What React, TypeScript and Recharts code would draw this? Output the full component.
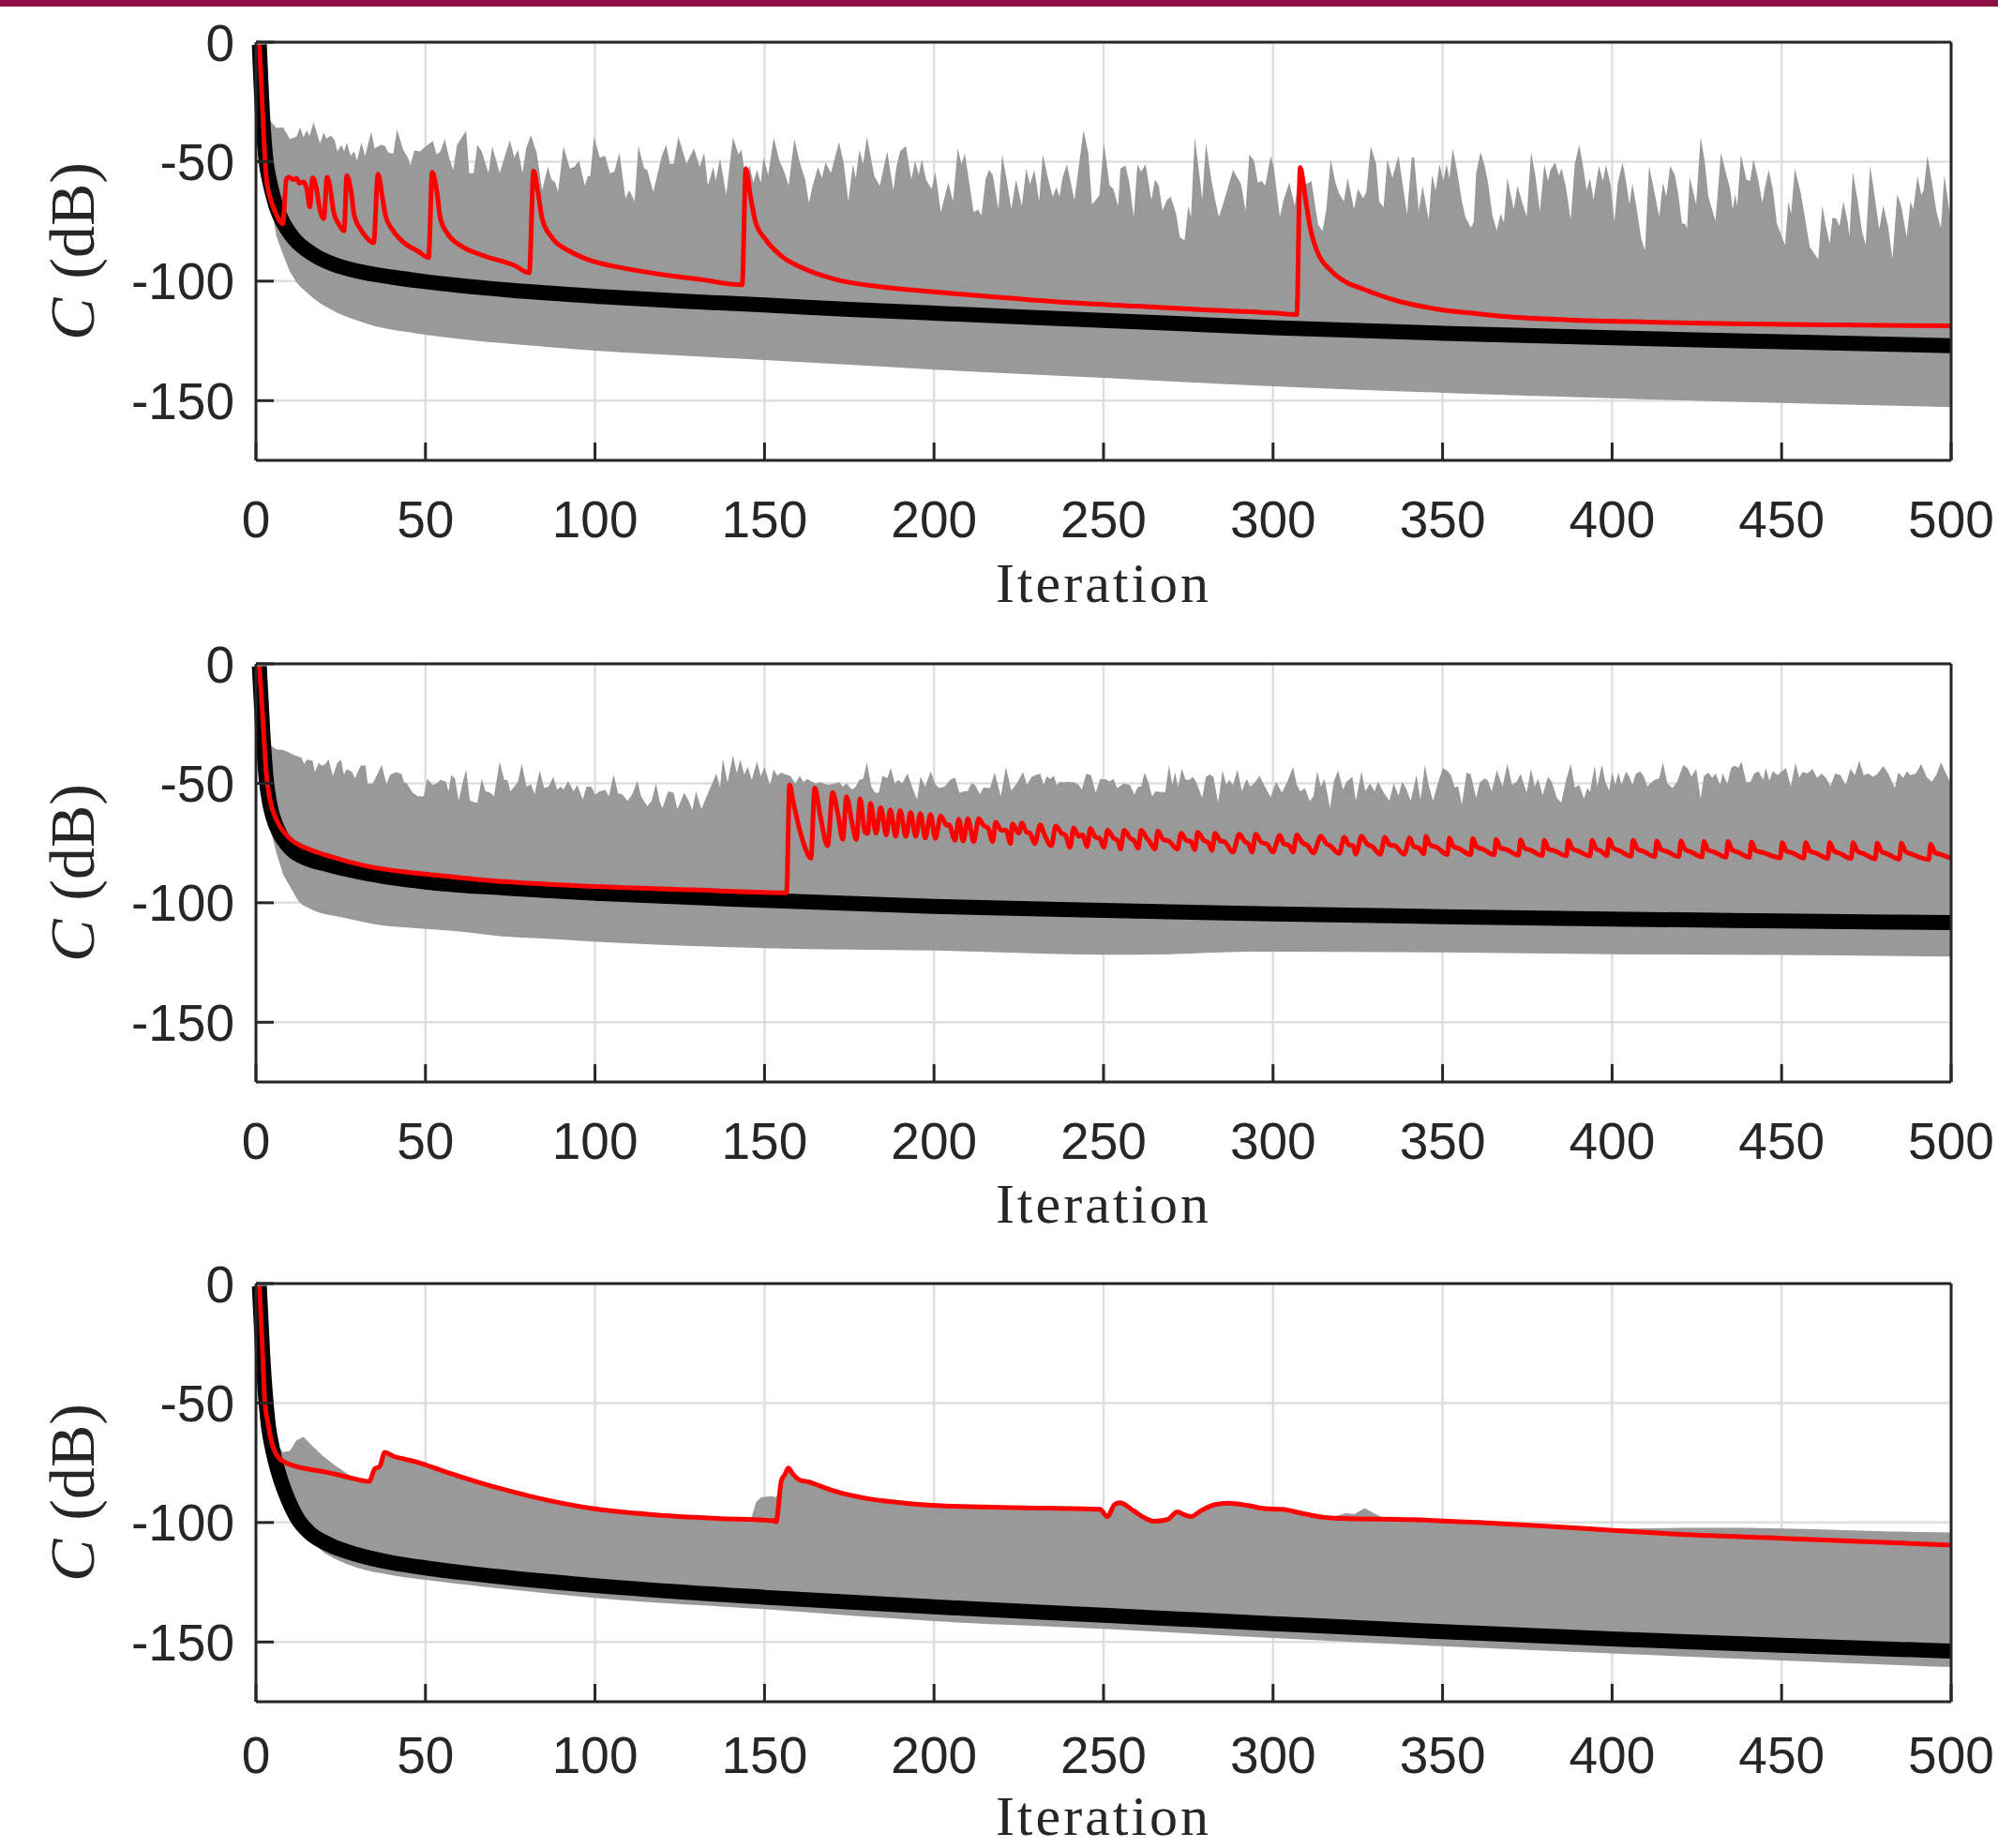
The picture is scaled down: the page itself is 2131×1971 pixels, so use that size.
import React from 'react';
import { ComposedChart, Area, Line, XAxis, YAxis, CartesianGrid } from 'recharts';

type Pt = [number, number];

const xTicks = [0, 50, 100, 150, 200, 250, 300, 350, 400, 450, 500];
const yTicks = [-150, -100, -50, 0];
const xLabel = 'Iteration';

// ---------------- Panel 1 ----------------
const p1Upper: Pt[] = [[4,-32.6],[6,-35.9],[8,-35.6],[10,-40.5],[12,-39.5],[13,-35.6],[14,-39.8],[15,-37],[15.8,-39.2],[17,-33.5],[18.9,-42.4],[20,-37.8],[20.8,-40.4],[22.1,-39],[23.2,-41],[24,-45.7],[25.2,-43],[26,-45.7],[26.8,-42],[27.9,-47.6],[29,-45.7],[29.8,-49.6],[31.1,-42],[32.2,-47.6],[34,-37.5],[35,-44.4],[36.9,-43],[38,-43.4],[39.1,-46.3],[40.5,-46.6],[41.6,-36.5],[43.4,-45],[44.8,-48.3],[45.6,-51.6],[46.7,-45.3],[48.4,-45.7],[50,-43.7],[52.2,-41.4],[53.3,-47],[54.4,-45.7],[55.7,-40.5],[57.1,-49],[58.2,-53.5],[59.3,-43],[62,-37],[62.9,-54.8],[64.2,-54.8],[65.3,-43],[66.6,-45.7],[68.6,-54.8],[69.7,-43.7],[71.9,-54.8],[72.7,-50.9],[74.9,-41],[76.2,-48.3],[77.3,-45],[78.6,-54.8],[79.7,-44.4],[81.1,-38.8],[82.8,-46.3],[84.4,-62],[86.1,-52.2],[87.2,-57.5],[88.3,-58.8],[89.1,-62.7],[90.7,-43.7],[92.6,-52.9],[93.9,-52.2],[95.3,-49.6],[97,-60],[97.9,-56.1],[98.6,-56.1],[99.7,-39.5],[101.4,-48.3],[103,-47.6],[104.4,-54.8],[105.7,-54.2],[107.2,-46.3],[109,-65.3],[110.1,-62],[111.7,-66.6],[112.8,-43.5],[114.5,-52.9],[115.4,-53.5],[117.2,-62.7],[119.7,-47.6],[121,-43],[122.1,-50.9],[123.2,-50.9],[124.6,-39.5],[127,-50.9],[128.1,-47.6],[129.2,-44.4],[130.9,-52.2],[132.2,-46.3],[133.3,-60],[134.9,-52.2],[135.6,-58.1],[136.9,-48.7],[138.7,-64],[140.7,-39.8],[142.3,-47],[143.2,-45],[144.5,-58.1],[145.6,-51.6],[146.7,-58.8],[147.8,-53.5],[148.9,-58.8],[149.7,-48.3],[151.1,-55.5],[152.7,-39.8],[154.4,-49.6],[156,-54.8],[157.1,-60],[158.8,-40.5],[160.4,-50.3],[162,-57.5],[163.1,-67.3],[164.2,-60],[165.8,-52.2],[166.9,-56.8],[168,-50.3],[169.6,-54.8],[171,-47],[172,-41.8],[173.4,-51],[174.7,-66.6],[176.1,-51],[176.9,-56.8],[178,-45],[179.1,-51],[180.2,-39.5],[182.4,-56.1],[184,-60],[186.2,-45.7],[188,-62],[188.9,-52.2],[190,-45.7],[191.7,-43.5],[193.3,-57.5],[194.4,-49.6],[195.5,-55.5],[196.4,-49],[197.7,-57.8],[199.3,-61.4],[200.4,-54.2],[202,-71.2],[204.2,-58.8],[205.6,-66.6],[207,-44.4],[208.1,-51],[209.1,-46.6],[211.7,-71.2],[213,-69.9],[214,-72.5],[215.2,-57.5],[216.2,-53.5],[217.3,-55.5],[219,-69.9],[220.1,-47],[221.5,-58.1],[222.8,-69.9],[224.2,-57.5],[225.9,-68.6],[227.2,-52.9],[228.3,-59.5],[229.6,-53.5],[231,-66.6],[232.1,-47],[233.7,-57.5],[235,-64.6],[236.1,-60.7],[237,-64.6],[237.9,-56.8],[239.2,-51],[241.4,-66],[244.1,-36.9],[245.5,-46.3],[246.6,-67.9],[247.4,-66.6],[248.8,-64],[250.1,-42.4],[251.8,-60],[252.9,-61.4],[254.3,-68.6],[255,-52.9],[256.5,-51.6],[257.6,-58.8],[258.9,-73.1],[260,-51],[261.1,-54.2],[262.4,-51],[264.1,-66],[265.2,-57.5],[266.3,-60],[267.4,-70.5],[268.7,-66],[269.8,-64.6],[271.4,-71.8],[272.5,-81.6],[273.9,-82.9],[275,-68.6],[275.8,-73.1],[276.9,-39.8],[278.5,-58.1],[279.1,-66],[280.2,-42.2],[281.8,-57.5],[282.9,-66],[284,-73.1],[285.1,-68.6],[286.7,-60.7],[288.2,-53.5],[289.5,-56.8],[290.6,-59.5],[291.9,-70.5],[293,-47],[294.4,-49.6],[295.5,-58.8],[296.6,-58.1],[297.7,-60],[299.3,-47.6],[300.2,-52.2],[302,-73.1],[303.1,-66],[304.8,-58.8],[306.4,-68.6],[308,-51.6],[309.7,-59.5],[311.3,-58.1],[313.3,-76.4],[314.6,-79],[315.7,-69.9],[317,-49],[318.4,-58.8],[319.5,-63.4],[320.9,-66.6],[322,-56.8],[323.9,-69.9],[325,-61.4],[326.6,-65.3],[327.5,-62.7],[328.8,-43.7],[330.4,-50.9],[331.3,-66.6],[332.6,-69.2],[333.7,-49],[335.2,-56.8],[337,-47.6],[339.5,-71.8],[340.9,-48.3],[341.6,-48.3],[343,-70.5],[344.1,-60],[345.9,-74.4],[346.9,-55.5],[348,-62],[349.1,-51],[350.2,-58.1],[351.2,-51],[352,-57.1],[353,-44.4],[354.3,-54.2],[355.7,-66.6],[356.8,-73.5],[358.4,-77.7],[359.2,-75.1],[359.9,-54.8],[361.2,-46],[362.4,-51.6],[363.4,-58.8],[364.7,-72.5],[366,-78.8],[367.1,-71.8],[368.1,-75.4],[369.1,-56.8],[371,-69.9],[372.1,-60],[373.4,-66.6],[374.8,-73.1],[376.1,-46],[377.4,-56.1],[378.7,-70.9],[380,-51],[381.1,-58.1],[381.8,-53.5],[383.2,-50.3],[384.3,-55.8],[385.1,-52.9],[386.4,-60.7],[387.8,-74.4],[389,-51],[390.3,-43],[391.4,-51.6],[392.5,-62],[393.5,-56.8],[394.5,-66],[396.1,-51.8],[397.3,-58.1],[398.2,-51.3],[399.6,-60],[400.7,-75.1],[401.7,-58.8],[403.1,-50.3],[404.1,-58.1],[405.1,-67.9],[406,-59.2],[407.2,-69.2],[408.6,-82.3],[409.7,-87.1],[410.9,-51.8],[412.3,-61.4],[413.9,-73.1],[415,-58.8],[416,-64.6],[417.1,-51.8],[418.5,-55.5],[419.5,-63.4],[420.6,-75.8],[421.6,-76.1],[422.1,-78],[422.9,-56.5],[424.8,-67.9],[426.1,-39.8],[427.3,-49.6],[428.4,-64.6],[430.5,-74.8],[432.1,-46.3],[433.5,-54.2],[434.8,-61.4],[435.6,-69.9],[436.3,-63.6],[436.9,-68.6],[438,-47],[439.6,-57.5],[440.7,-58.1],[441.7,-49],[443.2,-58.1],[444.3,-67.3],[445.1,-60.7],[446.2,-53.5],[447.4,-61.4],[448.6,-75.8],[451,-84.9],[452,-66.6],[452.8,-71.8],[453.9,-52.9],[455.7,-63.4],[458.3,-85.6],[460.8,-90.8],[462,-68.3],[463.1,-77.1],[464.2,-84.2],[465,-73.5],[466.1,-73.8],[467.1,-77.1],[468.2,-66.6],[469.5,-75.1],[470,-81.4],[471,-54.2],[472.4,-66],[473.7,-79],[474.8,-84.9],[476.1,-51.8],[477.2,-62],[478.8,-78.4],[480,-68.3],[481.4,-77.1],[482.7,-90.5],[484.1,-63.6],[485.3,-68.6],[486.9,-81.6],[488,-66.6],[488.8,-69.9],[490.1,-56.1],[491.2,-64],[491.9,-62],[493,-47.4],[494.3,-58.1],[495.7,-71.2],[497,-77.7],[498,-55.5],[500,-75.8]];
const p1Lower: Pt[] = [[4,-64],[6,-81],[8,-89],[10,-96],[12,-100.5],[14,-103.5],[16,-106],[18,-108.3],[20,-110.2],[23,-112.5],[26,-114.5],[30,-116.5],[35,-118.8],[40,-120.3],[48,-122],[60,-124.2],[72,-125.9],[85,-127.4],[97,-128.8],[118,-130.6],[150,-133],[175,-135],[200,-137],[250,-140.5],[300,-144],[350,-146.7],[400,-149],[450,-151],[500,-152.7]];
const p1Mean: Pt[] = [[1,-1],[2,-32],[3,-50],[4,-58],[5,-64],[6,-69],[8,-75.5],[10,-80],[12,-83.5],[15,-87],[18,-89.8],[23,-93],[30,-95.8],[40,-98.3],[50,-100.2],[60,-101.8],[75,-103.8],[100,-106.3],[125,-108.3],[150,-110],[175,-111.8],[200,-113.4],[250,-116.4],[300,-119.5],[350,-121.8],[400,-123.7],[450,-125.4],[500,-127]];
const p1Red: Pt[] = [[1,-1],[2,-30],[3,-56],[4.6,-67],[6,-72],[7.9,-76],[9,-57],[9.8,-56.5],[11,-57.5],[12,-57],[12.8,-59],[14,-58.5],[15,-61.4],[15.9,-69],[16.7,-56.8],[17.8,-61],[18.9,-70.5],[20,-73.8],[21,-56.5],[22,-62],[22.9,-71],[24.3,-75.8],[26,-79],[26.8,-55.8],[28,-62],[29,-72.5],[30.9,-78.4],[32.5,-81.6],[34.7,-84],[36,-55.2],[37.3,-65],[38.2,-72.5],[40.2,-78.4],[43.4,-83.6],[47.8,-87.5],[50.9,-90.1],[52,-54.4],[53.3,-62],[54.4,-73.8],[56.6,-80.3],[60.9,-85.6],[67.5,-89.5],[76.2,-93.4],[80.6,-96.5],[81.9,-54],[83.2,-63],[84.4,-73.8],[87.2,-81.6],[92.6,-87.5],[98,-91],[109,-94.7],[120,-97.3],[131,-99.3],[143.4,-101.5],[144.5,-53],[145.8,-64],[147.3,-75],[150.5,-82.9],[155,-89.5],[161.5,-94.7],[171,-99.3],[185,-102.5],[200,-104.5],[217,-106.5],[240,-109],[260,-110.5],[280,-112],[300,-113.3],[307,-114],[308,-52.5],[309.5,-65],[311,-78],[313,-87.5],[317,-95.5],[321,-100],[326,-103],[337,-108.4],[348,-111.6],[360,-113.6],[370,-115],[391,-116.4],[410,-117.1],[435,-117.8],[465,-118.3],[500,-118.7]];

// ---------------- Panel 2 ----------------
const p2Upper: Pt[] = [[4,-33.8],[6,-35.8],[8,-36.1],[10,-37.4],[11.7,-38.5],[13.4,-39.2],[14.2,-41.9],[15,-40.1],[16.7,-40.5],[17.4,-45.3],[18.5,-41.4],[19.4,-42.7],[20.5,-42],[21.4,-39.9],[22.7,-47],[24,-41.4],[25.1,-40.1],[25.9,-46.4],[26.8,-44],[28.4,-45.3],[29.2,-48],[30.9,-42.6],[32.3,-42.6],[33,-50.4],[34.5,-50],[37.1,-42.3],[38.5,-50.4],[39.6,-46.4],[41.3,-45.3],[42.9,-46],[43.7,-49.6],[44.5,-50],[46.2,-54],[47.8,-55.4],[49.5,-55.4],[50.5,-48.2],[52.2,-50.7],[53.3,-50],[54.4,-48.6],[56,-49.3],[56.8,-53.4],[57.6,-46.6],[58.7,-48],[59.8,-57.4],[60.9,-50],[62,-44.2],[63.1,-57.2],[64.7,-58.1],[65.3,-58.1],[66.6,-48.2],[67.7,-53.4],[69.1,-54],[70.2,-55.4],[71.9,-40.9],[73.2,-48.6],[74.1,-48.6],[75.1,-53.4],[76.2,-51.4],[77.3,-49.3],[78.4,-41.9],[79.8,-51.4],[81.1,-50.4],[82.2,-54.5],[83.7,-44.6],[85,-52],[86.3,-51.4],[87.7,-47.3],[88.8,-52.7],[89.9,-51.4],[90.7,-52.7],[92.1,-49.1],[93.7,-53.4],[94.8,-50.7],[96.4,-56.8],[97.5,-51.4],[98.9,-51.4],[100.1,-54.7],[101.4,-53.4],[103,-52.7],[104.1,-55.4],[105.5,-46.4],[106.8,-54.1],[108.1,-54.7],[109.6,-57.4],[111,-54.5],[112.5,-49],[113.6,-55.4],[115.4,-59.5],[116.7,-57.4],[118,-50],[119.1,-57.8],[119.9,-60.4],[121.6,-53.4],[123.2,-54],[124.3,-60.8],[126.3,-54],[127.6,-57.2],[128.7,-61.2],[129.8,-53.4],[131.4,-60.8],[132.8,-55.9],[135.8,-46],[136.9,-51.8],[137.7,-39.6],[139.1,-49.7],[140.7,-38.2],[141.8,-45.7],[142.9,-40.1],[144,-46.4],[145.1,-43.2],[146.2,-48.6],[147.8,-40.9],[148.9,-47.1],[150,-43.2],[151.6,-50.7],[152.7,-44.2],[153.8,-46.8],[154.9,-45.5],[156,-46.2],[157.6,-46.9],[159.1,-50],[160.4,-46.9],[161.5,-49.5],[162.6,-48.2],[164.2,-49.5],[165.3,-50],[166.7,-49.5],[168.6,-50.7],[171,-50],[172,-49.4],[173.1,-51.4],[174.2,-50],[175.8,-52.7],[176.9,-51.4],[178,-48.6],[179.1,-48.2],[180.2,-41.2],[181.5,-51.4],[182.6,-54],[183.7,-54],[184.8,-46.9],[186.2,-47.9],[187.3,-43.6],[188.4,-50],[189.5,-48.6],[190.6,-50],[192.2,-45.9],[193.5,-51.4],[195,-56.8],[196,-47.3],[197.4,-51.4],[199,-45],[200.4,-50.4],[201.5,-52],[203.1,-51.4],[204.8,-48.6],[206.2,-47.6],[207.5,-54],[208.8,-53.4],[209.9,-53.4],[211,-50],[212.1,-50.7],[213.5,-54.5],[214.6,-51.8],[216.5,-52],[217.9,-45.5],[219.7,-55.4],[221.2,-43.2],[222.8,-53.1],[224.4,-50],[226.3,-45.3],[227.4,-50.7],[228.8,-47.3],[229.9,-46.6],[231.3,-46],[232.4,-50.7],[233.2,-47.1],[234.3,-48.2],[235.4,-46.9],[236.1,-50.7],[237.2,-49.3],[238.6,-49.6],[239.7,-49.3],[241.4,-49.6],[242.7,-50.7],[243.6,-52.7],[244.9,-46],[246.3,-46.6],[247.7,-54],[249,-48.2],[250.7,-48.4],[251.8,-49.2],[252.9,-48.2],[254,-52],[254.7,-51.4],[256.1,-50],[257.8,-50.7],[259.1,-54.7],[260.2,-51.4],[261.1,-51.4],[262.1,-45.5],[263.2,-49.3],[264.3,-55.4],[265.4,-53.4],[267.1,-53.7],[268.2,-53.7],[269.3,-42.6],[270.3,-50.7],[271.1,-45.3],[272,-51.4],[273.1,-43.9],[274.2,-48.6],[275.3,-48.6],[276.4,-47.3],[277.5,-50],[279.1,-56.1],[280.2,-47.3],[281.3,-46.3],[282.4,-47.3],[283.8,-58.1],[285.1,-44.6],[286.2,-50.7],[287.1,-48.6],[288.2,-50.7],[289.5,-44.2],[290.8,-53.4],[292.2,-48.2],[293.3,-51.4],[294.4,-50],[296,-46.9],[297.6,-51.4],[299.3,-55.8],[300.9,-49.3],[302.6,-53.9],[304.2,-49.3],[305.9,-43.2],[307,-50.7],[308.1,-53.4],[309.4,-52],[310.8,-57.4],[311.9,-55.4],[313,-45],[314.1,-51.4],[315.2,-48.2],[316.8,-60.4],[317.9,-49.3],[319.2,-44.6],[320.6,-52.7],[321.7,-49.3],[323.4,-47.3],[324.4,-57.4],[326.1,-45],[327.2,-53.4],[328.6,-50],[329.9,-53.4],[331,-49.3],[332.6,-53.9],[334.3,-57.4],[335.6,-50],[337,-55.2],[338.1,-49.3],[339.2,-52],[340.6,-57.4],[342.3,-46.6],[343.5,-56.8],[344.8,-42.3],[345.9,-50.7],[347.2,-57.4],[348.6,-50],[350.1,-43.6],[351.5,-44.9],[352.5,-46.6],[353.6,-51.8],[354.6,-51.2],[355.7,-59],[357.1,-45.5],[358.3,-46.3],[359.9,-56.1],[361,-49.6],[362.4,-48],[363.4,-48.9],[364.5,-53.4],[366,-44.6],[367.7,-51.4],[369.1,-41.9],[370.5,-50.7],[371.9,-49.3],[373,-46],[374.2,-51.4],[374.8,-54],[376.1,-43.9],[377.2,-51.4],[378.2,-48.2],[379.5,-55],[381.1,-47.3],[382.2,-49.3],[383.7,-56.1],[385,-58.1],[386.4,-48.9],[387.8,-41.9],[389,-51.8],[390.3,-50.7],[391.7,-56.4],[392.7,-52],[393.5,-53.6],[394.9,-42.6],[395.6,-51.4],[397,-42.3],[398,-49.3],[399.1,-53.1],[400.1,-45.5],[400.9,-50.7],[401.9,-45.5],[402.8,-50.7],[404.1,-45],[405.1,-47.3],[406,-50.7],[407,-46],[408.3,-45],[409.4,-47.3],[410.4,-51.4],[411.3,-50],[412.5,-48.6],[413.9,-48],[415,-41.2],[416.3,-50],[417.8,-52],[419.2,-49.3],[421,-42.3],[422.4,-43.9],[423.4,-47.3],[424.8,-43.9],[426.1,-56.4],[427.1,-47.1],[428.4,-45.5],[429.5,-47.8],[430.5,-45.9],[431.9,-50.7],[432.6,-45.9],[434,-50.2],[435.1,-43.6],[436.1,-42.6],[437.2,-43.6],[438.2,-40.9],[439.6,-49.6],[440.9,-49.3],[441.9,-45.9],[443.2,-45],[444.6,-48.6],[445.3,-43.6],[446.4,-48.9],[447.4,-44.9],[448.8,-46.6],[449.9,-45.2],[451.3,-43.6],[452.7,-51.4],[454.1,-41.5],[455.2,-47.8],[456.2,-45.2],[457.6,-45.9],[459.1,-43.9],[460.5,-47.8],[461.8,-45.9],[463.1,-47.8],[464.4,-51.2],[465.8,-45.9],[467.4,-46.6],[468.9,-50.7],[470.3,-43.9],[471.6,-46.6],[472.9,-40.5],[474.2,-46.6],[475.6,-45.9],[476.9,-47.3],[478.1,-46.3],[480,-42.8],[481.6,-46.3],[483.4,-52],[484.4,-45.5],[485.9,-47.8],[486.9,-45],[488,-46.6],[489.6,-45.9],[491.2,-41.9],[492.7,-47.3],[494.3,-49.3],[495.7,-46.3],[497,-41.2],[498.6,-46.3],[500,-50]];
const p2Lower: Pt[] = [[4,-68],[6,-79],[8,-88],[10,-93],[13,-100],[16,-102.5],[18,-103.8],[23,-105.5],[30,-107.5],[35,-109],[48,-110.7],[60,-112],[72,-114],[85,-115],[97,-116],[118,-117.5],[150,-119],[200,-120],[250,-121.7],[270,-121.5],[294,-120.5],[350,-120.8],[400,-121.5],[450,-121.8],[500,-122.5]];
const p2Mean: Pt[] = [[1,-1],[2,-28],[3,-48],[4,-58],[5,-64],[7,-71],[10.7,-78],[15,-81.5],[21,-84],[30,-87],[40,-89.5],[50,-91.3],[75,-94],[100,-96],[150,-99],[200,-101.5],[250,-103.2],[300,-104.7],[350,-105.8],[400,-106.8],[450,-107.6],[500,-108.3]];
const p2Red: Pt[] = [[1,-1],[2,-22],[3,-45],[4,-56],[5,-61.5],[6.3,-66],[8,-70],[10.7,-74],[13,-76],[16,-77.8],[21.6,-80.5],[32.5,-84.6],[43.4,-87],[50,-88],[65,-90.2],[87,-92.3],[109,-93.7],[131,-94.7],[156.5,-95.8],[157.4,-50.7],[158.5,-58],[160.4,-69.6],[162,-77],[163.7,-81.4],[164.8,-52],[166.5,-64],[168.6,-76.1],[170.1,-53.9],[171.6,-62.5],[173.1,-73.5],[174.2,-55.6],[175.8,-66.5],[177.1,-73.5],[178.2,-56.5],[179.6,-70.3],[180.4,-71],[181.3,-58.5],[182.9,-70.9],[184.3,-60.1],[185.9,-71.6],[187.1,-61.1],[188.7,-72.2],[190,-61.4],[191.7,-72.2],[193.1,-62.2],[194.6,-72.2],[196,-62.7],[197.4,-72.9],[199,-63.1],[200.4,-73.1],[202,-63.7],[203.7,-67.6],[204.4,-67.3],[206.2,-73.9],[207.3,-65],[208.6,-74.2],[210,-64.8],[211.7,-74.4],[213.2,-64.8],[214.6,-67.6],[216,-68.9],[217.3,-74.4],[218.2,-66.3],[219.8,-69.6],[221.2,-69.6],[222.6,-75.2],[223.1,-67],[225,-70.9],[225.9,-66.6],[227.2,-70.3],[228.3,-70.9],[229.7,-75.2],[231.3,-67.4],[232.6,-71.6],[234.6,-76.1],[235.9,-67.9],[237.6,-70.9],[238.7,-71.6],[240.1,-76.8],[241.2,-68.7],[242.7,-72.2],[243.8,-71.6],[245.2,-76.5],[246.1,-69],[247.7,-72.6],[248.8,-72.9],[250.1,-76.8],[251.2,-69.6],[252.9,-72.9],[254.3,-74.2],[255,-77.5],[256.1,-69.6],[257.8,-72.9],[259.1,-74.2],[260.2,-77.2],[261.1,-69.6],[262.7,-72.9],[263.5,-74.2],[265.2,-77.5],[266,-70],[267.6,-73.5],[269.3,-74.2],[271.8,-77.5],[272.9,-70.9],[274.4,-73.9],[275.8,-74.4],[276.9,-77.8],[277.8,-70.5],[279.6,-73.9],[280.9,-74.8],[282,-78.1],[282.9,-70.9],[284.5,-74.2],[285.6,-74.4],[288.2,-78.8],[290,-71.3],[291.7,-74.4],[292.8,-75.4],[293.8,-78.8],[294.9,-71.3],[296.6,-74.8],[298.2,-75.4],[299.9,-78.8],[302,-71.8],[303.1,-75.2],[304.8,-76.1],[305.9,-78.8],[307,-71.6],[308.6,-74.8],[310.2,-76.1],[311.9,-79.2],[314.1,-72.2],[315.8,-75.4],[316.8,-76.1],[319.5,-79.4],[321,-72.6],[322.3,-75.7],[323.6,-76.1],[324.4,-79.7],[326.1,-72.2],[327.7,-75.4],[329.3,-76.5],[331.6,-79.7],[333,-72.6],[334.3,-75.7],[335.9,-76.1],[338.7,-79.7],[340.3,-72.9],[341.5,-76.4],[343,-77],[344.5,-79.5],[345.1,-72.2],[346.3,-75.7],[348.2,-76.7],[351.4,-79.8],[352,-72.9],[353.2,-76.4],[355,-77.4],[358.3,-79.9],[358.9,-73.1],[360.1,-76.6],[362,-77.6],[365.2,-80],[365.8,-73.5],[367,-77],[369,-77.8],[372.4,-80.1],[373,-73.7],[374.2,-77.2],[376,-78],[379.4,-80.2],[380,-73.9],[381.2,-77.4],[383,-78.2],[386.5,-80.3],[387.1,-73.9],[388.3,-77.4],[390,-78.3],[393.5,-80.4],[394.1,-73.9],[395.3,-77.4],[396.8,-78.4],[398.5,-80.3],[399.1,-73.5],[400.3,-77],[402.3,-78.3],[405.6,-80.5],[406.2,-73.9],[407.4,-77.4],[409.3,-78.5],[412.6,-80.6],[413.2,-74.2],[414.4,-77.7],[416.3,-78.6],[419.7,-80.7],[420.3,-74.2],[421.5,-77.7],[423.3,-78.7],[426.5,-80.8],[427.1,-74.4],[428.3,-77.9],[430.2,-78.8],[433.6,-80.9],[434.2,-74.4],[435.4,-77.9],[437.3,-78.9],[440.5,-81],[441.1,-74.6],[442.3,-78.1],[444.5,-79],[449.6,-81.2],[450.2,-74.8],[451.4,-78.3],[453.3,-79.2],[456.5,-81.3],[457.1,-74.8],[458.3,-78.3],[460.3,-79.3],[463.6,-81.4],[464.2,-74.8],[465.4,-78.3],[467.3,-79.4],[470.5,-81.5],[471.1,-74.8],[472.3,-78.3],[474.3,-79.5],[477.6,-81.6],[478.2,-75],[479.4,-78.5],[481.3,-79.6],[484.7,-81.7],[485.3,-75],[486.5,-78.5],[488.5,-79.7],[493.4,-81.9],[494,-75.5],[495.2,-79],[497,-79.8],[500,-81.4]];

// ---------------- Panel 3 ----------------
const p3Upper: Pt[] = [[2,-20],[3,-45],[4,-60],[6,-67],[8,-70.5],[10,-70],[12,-65.5],[14,-64.2],[17,-68.5],[20,-72.5],[23,-75.8],[28,-80.5],[33.5,-82.6],[35,-77.6],[36.5,-76.5],[38,-70.6],[40.6,-72.3],[44,-73.5],[47.6,-74.8],[56.4,-79],[65.3,-83],[74,-86.5],[83,-89.7],[100.5,-94.4],[118,-96.8],[136,-98.3],[146,-98.8],[147.5,-91.5],[149,-89.5],[152,-89],[153.5,-89.5],[155,-82.3],[156,-80],[157,-77.2],[158.4,-79.8],[160.5,-82.3],[163,-83],[166,-84.5],[171,-87],[180,-89.9],[189,-91.5],[201,-92.9],[225,-93.8],[248.9,-94.5],[251.2,-97.5],[253.2,-92.5],[254.8,-91.7],[258.8,-95],[262,-98],[264.8,-99.5],[268.8,-98.8],[271.8,-95.5],[273.8,-96.8],[275.8,-97.5],[278.8,-95],[282.8,-92.5],[286.7,-91.9],[292.7,-92.9],[297.7,-94.2],[302.7,-94.5],[308.7,-96.2],[314.7,-97.8],[318.5,-97.3],[321.5,-96],[324,-96.5],[327,-94],[330,-96.3],[333,-98.3],[340.6,-98.8],[360.5,-100],[380.5,-101.5],[400.4,-102.6],[420,-102.2],[440,-102.2],[460,-102.8],[480,-103.7],[500,-104.2]];
const p3Lower: Pt[] = [[2,-25],[3,-55],[4,-67],[6,-80],[8,-89],[10,-96],[12,-101.5],[14,-105],[17,-109],[20,-112.5],[23,-115],[30,-119],[40,-122],[50,-124],[75,-128],[100,-131.5],[150,-136.3],[200,-141.3],[250,-144.5],[300,-148.3],[350,-151.8],[400,-154.8],[450,-157.7],[500,-160.5]];
const p3Mean: Pt[] = [[1,-1],[2,-30],[3.5,-57.5],[5,-70],[7,-80.8],[9.5,-90.5],[12.3,-98.5],[16,-104.5],[21.2,-109],[30,-113.5],[40,-116.8],[50,-119],[74,-123],[100,-126.4],[150,-131.3],[200,-135.3],[250,-138.8],[300,-142.3],[350,-145.7],[400,-148.7],[450,-151.4],[500,-153.8]];
const p3Red: Pt[] = [[1,-1],[2,-30],[2.6,-49],[3.5,-58],[4.4,-65],[7,-73.3],[10.6,-76],[15,-77.5],[21,-79],[27,-81],[33.5,-82.8],[34.3,-80],[35,-77.6],[36.5,-76.5],[38,-70.6],[40.6,-72.3],[44,-73.5],[47.6,-74.8],[56.4,-79],[65.3,-83],[74,-86.5],[83,-89.7],[100.5,-94.4],[118,-96.8],[136,-98.3],[152.6,-99.3],[153.4,-99.7],[155,-82.3],[156,-80],[157,-77.2],[158.4,-79.8],[160.5,-82.3],[163,-83],[166,-84.5],[171,-87],[180,-89.9],[189,-91.5],[201,-92.9],[225,-93.8],[248.9,-94.5],[251.2,-97.5],[253.2,-92.5],[254.8,-91.7],[258.8,-95],[262,-98],[264.8,-99.5],[268.8,-98.8],[271.8,-95.5],[273.8,-96.8],[275.8,-97.5],[278.8,-95],[282.8,-92.5],[286.7,-91.9],[292.7,-92.9],[297.7,-94.2],[302.7,-94.5],[308.7,-96.2],[314.7,-97.8],[320.6,-98.3],[340.6,-98.8],[360.5,-100],[380.5,-101.5],[400.4,-103.3],[420.3,-105],[450.2,-106.6],[480.1,-108.3],[500,-109.5]];

// --------------------------------------------------------
type Row = { x: number; hi?: number; lo?: number; mean?: number; red?: number };

function buildRows(series: Record<string, Pt[]>): Row[] {
  const map = new Map<number, any>();
  Object.keys(series).forEach((key) => {
    series[key].forEach(([x, y]) => {
      const r = map.get(x) || { x };
      r[key] = y;
      map.set(x, r);
    });
  });
  return Array.from(map.values()).sort((a, b) => a.x - b.x);
}

const W = 2131;
const CH = 660;
const AX = '#262626';
const tickFont = { fontSize: 55, fill: AX, fontFamily: 'Liberation Sans, Arial, sans-serif' };

type PanelProps = {
  rows: Row[];
  top: number;
  startEnd: number;
  splitFrom: number;
  topBase: number;
  bottomBase: number;
  xTickMargin: number;
};

function Panel({ rows, top, startEnd, splitFrom, topBase, bottomBase, xTickMargin }: PanelProps) {
  return (
    <div style={{ position: 'absolute', left: 0, top, width: W, height: CH }}>
      <ComposedChart width={W} height={CH} data={rows} margin={{ top: 44, right: 49, bottom: 19, left: 0 }}>
        <CartesianGrid stroke="#dedede" strokeWidth={2.5} />
        <XAxis
          xAxisId={0}
          type="number"
          dataKey="x"
          domain={[0, 500]}
          ticks={xTicks}
          interval={0}
          height={150}
          tickSize={-19}
          tickMargin={xTickMargin}
          tick={tickFont}
          axisLine={{ stroke: AX, strokeWidth: 3 }}
          tickLine={{ stroke: AX, strokeWidth: 3 }}
        />
        <XAxis
          xAxisId="top"
          orientation="top"
          type="number"
          dataKey="x"
          domain={[0, 500]}
          ticks={xTicks}
          interval={0}
          height={1}
          tickSize={-19}
          tick={false}
          axisLine={{ stroke: AX, strokeWidth: 3 }}
          tickLine={{ stroke: AX, strokeWidth: 3 }}
        />
        <YAxis
          yAxisId={0}
          type="number"
          domain={[-175, 0]}
          ticks={yTicks}
          interval={0}
          width={273}
          tickSize={-19}
          tickMargin={42}
          tick={tickFont}
          axisLine={{ stroke: AX, strokeWidth: 3 }}
          tickLine={{ stroke: AX, strokeWidth: 3 }}
        />
        <YAxis
          yAxisId="right"
          orientation="right"
          type="number"
          domain={[-175, 0]}
          ticks={yTicks}
          interval={0}
          width={1}
          tickSize={-19}
          tick={false}
          axisLine={{ stroke: AX, strokeWidth: 3 }}
          tickLine={{ stroke: AX, strokeWidth: 3 }}
        />
        <Area
          dataKey={(r: Row) => (r.x >= splitFrom && r.lo != null ? r.lo : null)}
          baseValue={bottomBase}
          type="monotone"
          connectNulls
          stroke="none"
          fill="#999999"
          fillOpacity={1}
          isAnimationActive={false}
          dot={false}
          activeDot={false}
        />
        <Area
          dataKey={(r: Row) => (r.x >= splitFrom && r.hi != null ? r.hi : null)}
          baseValue={topBase}
          type="linear"
          connectNulls
          stroke="none"
          fill="#999999"
          fillOpacity={1}
          isAnimationActive={false}
          dot={false}
          activeDot={false}
        />
        <Area
          dataKey={(r: Row) => (r.x <= startEnd && r.hi != null && r.lo != null ? [r.lo, r.hi] : null)}
          type="linear"
          connectNulls
          stroke="none"
          fill="#999999"
          fillOpacity={1}
          isAnimationActive={false}
          dot={false}
          activeDot={false}
        />
        <Line
          dataKey="mean"
          type="monotone"
          stroke="#000000"
          strokeWidth={16}
          dot={false}
          activeDot={false}
          connectNulls
          isAnimationActive={false}
        />
        <Line
          dataKey="red"
          type="monotone"
          stroke="#ff0000"
          strokeWidth={5}
          strokeLinejoin="round"
          dot={false}
          activeDot={false}
          connectNulls
          isAnimationActive={false}
        />
      </ComposedChart>
    </div>
  );
}

const rows1 = buildRows({ hi: p1Upper, lo: p1Lower, mean: p1Mean, red: p1Red });
const rows2 = buildRows({ hi: p2Upper, lo: p2Lower, mean: p2Mean, red: p2Red });
const rows3 = buildRows({ hi: p3Upper, lo: p3Lower, mean: p3Mean, red: p3Red });

const panelTops = [0, 663, 1324];
const xLabelBaselines = [642, 1304, 1957];

export default function App() {
  const serif = 'Liberation Serif, Times New Roman, serif';
  return (
    <div style={{ position: 'absolute', left: 0, top: 0, width: W, height: 1971, overflow: 'hidden', background: '#ffffff' }}>
      <Panel rows={rows1} top={panelTops[0]} startEnd={14} splitFrom={12} topBase={-98} bottomBase={-95} xTickMargin={62} />
      <Panel rows={rows2} top={panelTops[1]} startEnd={10} splitFrom={8} topBase={-85} bottomBase={-75} xTickMargin={62} />
      <Panel rows={rows3} top={panelTops[2]} startEnd={23} splitFrom={20} topBase={-110} bottomBase={-106} xTickMargin={56} />
      <div style={{ position: 'absolute', left: 0, top: 0, width: W, height: 7, background: '#8c0e43' }} />
      <svg width={W} height={1971} style={{ position: 'absolute', left: 0, top: 0, pointerEvents: 'none' }}>
        {panelTops.map((t, i) => (
          <g key={i}>
            <text
              x={1177}
              y={xLabelBaselines[i]}
              textAnchor="middle"
              fontFamily={serif}
              fontSize={60}
              letterSpacing={3}
              fill="#262626"
            >
              {xLabel}
            </text>
            <text
              x={100}
              y={t + 268}
              transform={`rotate(-90 100 ${t + 268})`}
              textAnchor="middle"
              fontFamily={serif}
              fontSize={68}
              fill="#262626"
            >
              <tspan fontStyle="italic">C</tspan>
              <tspan dx={20}>(dB)</tspan>
            </text>
          </g>
        ))}
      </svg>
    </div>
  );
}
